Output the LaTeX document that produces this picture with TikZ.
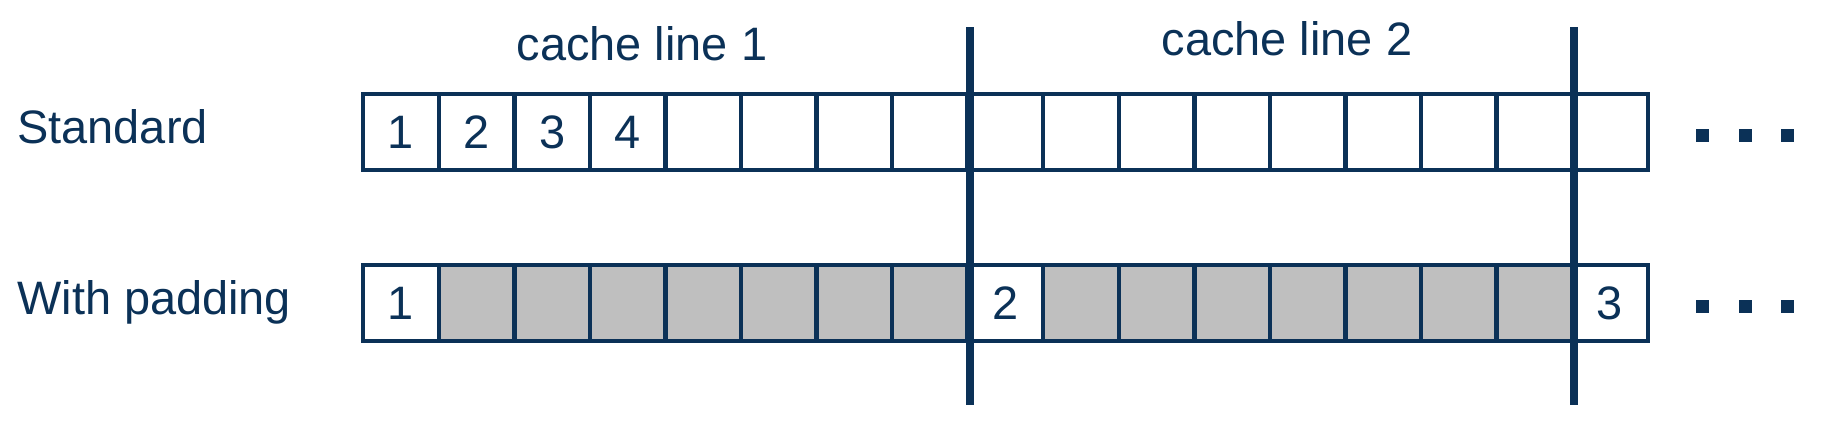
\documentclass[tikz,border=0pt]{standalone}
\usepackage{fontspec}
\setmainfont{Liberation Sans}
\definecolor{navy}{RGB}{11,49,87}
\definecolor{padgray}{RGB}{191,191,191}
\tikzset{
  rowlabel/.style={inner sep=0pt, text=navy, font=\fontsize{26.7}{32}\selectfont},
  cell/.style={draw=navy, line width=2.5pt, fill=white, minimum width=1.511cm, minimum height=1.52cm, inner sep=0pt, text=navy, font=\fontsize{26.7}{32}\selectfont},
  padcell/.style={cell, fill=padgray},
  boundary/.style={draw=navy, line width=4.5pt},
  dot/.style={fill=navy, minimum size=0.26cm, inner sep=0pt}
}
\begin{document}
\begin{tikzpicture}[x=0.02cm, y=-0.02cm]
\useasboundingbox (0,0) rectangle (1846,423);
\node[rowlabel, anchor=base west] (std) at (17,143) {Standard};
\node[rowlabel, anchor=base west] (pad) at (17,314) {With padding};
\node[rowlabel, anchor=base] (line1) at (642,60) {cache line 1};
\node[rowlabel, anchor=base] (line2) at (1287,55) {cache line 2};
\foreach \i in {1,...,17}
  \node[cell] (s\i) at ({363.2+(\i-0.5)*75.56},132) {};
\foreach \i in {1,...,4}
  \node[rowlabel] at (s\i) {\i};
\foreach \i in {2,...,8,10,11,...,16}
  \node[padcell] (p\i) at ({363.2+(\i-0.5)*75.56},303) {};
\foreach \i/\t in {1/1,9/2,17/3}
  \node[cell] (p\i) at ({363.2+(\i-0.5)*75.56},303) {\t};
\coordinate (b1top) at (s8.east |- 0,27);
\coordinate (b1bot) at (s8.east |- 0,405);
\coordinate (b2top) at (s16.east |- 0,27);
\coordinate (b2bot) at (s16.east |- 0,405);
\draw[boundary] (b1top) -- (b1bot);
\draw[boundary] (b2top) -- (b2bot);
\foreach \i/\x in {1/1702,2/1745,3/1787.5}{
  \node[dot] (sd\i) at (\x,135) {};
  \node[dot] (pd\i) at (\x,306) {};
}
\end{tikzpicture}
\end{document}
